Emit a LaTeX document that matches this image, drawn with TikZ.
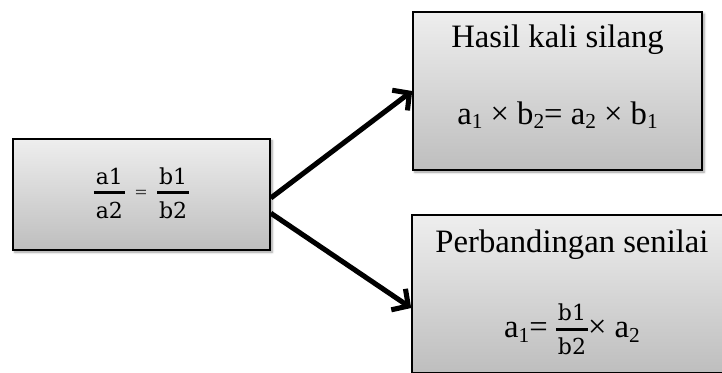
\documentclass[tikz,border=0pt]{standalone}
\usepackage{amsmath}
\usepackage{fontspec}
\setmainfont{Liberation Serif}
\newfontfamily\fracfont{DejaVu Serif}
\usetikzlibrary{arrows.meta}
\usetikzlibrary{shadows.blur}

\definecolor{boxtop}{RGB}{238,238,238}
\definecolor{boxbot}{RGB}{190,190,190}

\newcommand{\ix}[2]{#1\raisebox{-0.3ex}{\fontsize{16}{16}\selectfont #2}}
\newcommand{\fr}[2]{$\vcenter{\fontsize{16.5}{18}\fracfont\halign{\hfil\kern1.5pt##\kern1.5pt\hfil\cr #1\cr
    \noalign{\kern5pt\hrule height2.4pt\kern5.5pt}#2\cr}}$}

\begin{document}
\begin{tikzpicture}[x=0.75pt,y=-0.75pt,>={Straight Barb[length=9pt,width=19pt]},
        box/.style={draw=black,line width=1.2pt,top color=boxtop,bottom color=boxbot,
          blur shadow={shadow xshift=1.5pt,shadow yshift=-1.5pt,shadow blur steps=6},
          align=center,inner sep=0pt,font=\fontsize{24.5}{29}\selectfont},
        link/.style={->,line width=3.8pt}]

        \useasboundingbox (0,0) rectangle (722,372);

        \node [box,minimum width=192.8pt,minimum height=83.3pt]  (rasio)   at (141.5,194.5)
              {\fr{a1}{a2}\hspace{7pt}\raisebox{3pt}{\color{darkgray}\fontsize{12}{12}\fracfont =}\hspace{7pt}\fr{b1}{b2}\\[-14pt]\mbox{}};
        \node [box,minimum width=216.8pt,minimum height=118.5pt] (silang)  at (557.5,91)
              {Hasil kali silang\\[29pt]\ix{a}{1} × \ix{b}{2}= \ix{a}{2} × \ix{b}{1}\\[-4pt]\mbox{}};
        \node [box,minimum width=240pt,minimum height=118.5pt]   (senilai) at (572,294)
              {Perbandingan senilai\\[32pt]\ix{a}{1}= \fr{b1}{b2}× \ix{a}{2}\\[-14pt]\mbox{}};

        \path
          ([yshift=-2.6pt]rasio.east) edge[link] (silang.west)
          ([yshift=-14pt]rasio.east)  edge[link] ([yshift=-10.5pt]senilai.west)
        ;
\end{tikzpicture}
\end{document}
